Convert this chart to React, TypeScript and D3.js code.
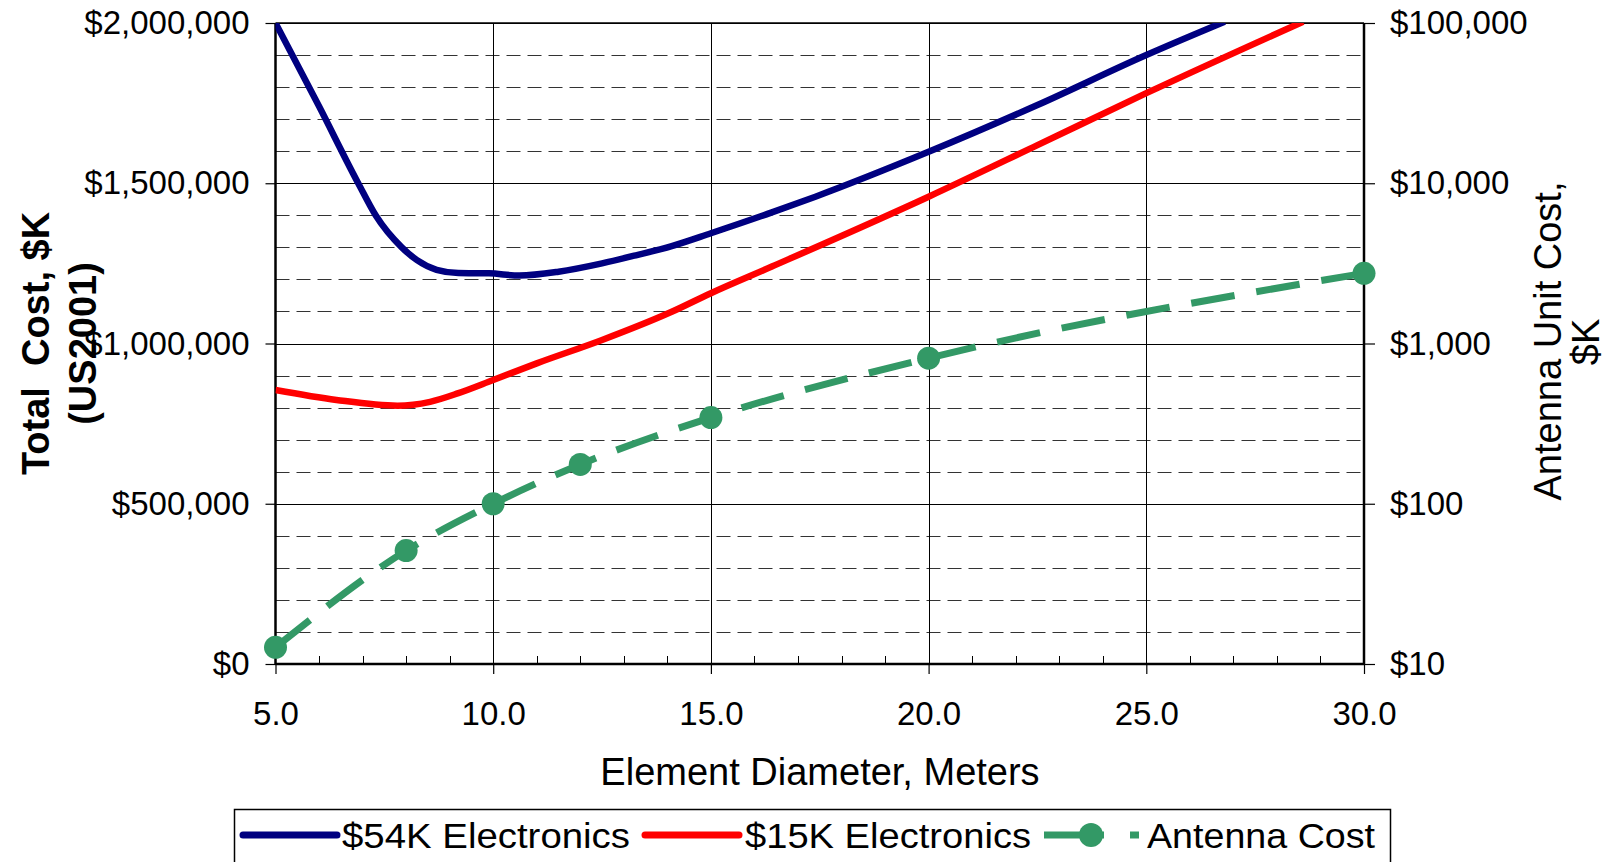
import React, { useEffect, useRef } from 'react';
import * as d3 from 'd3';

// element diameter (m) vs total cost
const blueDiam = [5, 6, 6.9, 7.3, 7.9, 8.25, 8.7, 9.2, 9.9, 10.6, 11.5, 12.5, 13.3, 14.1, 15, 16.4, 17.4, 20, 22.5, 25, 26.8];
const blueCost = [2000000, 1740000, 1500000, 1400000, 1300000, 1260000, 1230000, 1220000, 1219000, 1212000, 1224000, 1250000, 1276000, 1304000, 1344000, 1409000, 1458000, 1598000, 1744000, 1900000, 2004000];

const redDiam = [5, 6.4, 7.8, 8.55, 9.2, 10, 11, 12.5, 14.1, 15, 16.4, 20, 22.5, 25, 28.6];
const redCost = [855000, 824000, 806000, 818000, 845000, 886000, 938000, 1011000, 1099000, 1157000, 1240000, 1458000, 1619000, 1781000, 2004000];

// antenna unit cost ($K), right log axis
const antDiam = [5, 8, 10, 12, 15, 20, 30];
const antCost = [12.7, 51, 100, 176, 345, 810, 2740];

const xTicks = [5, 10, 15, 20, 25, 30];
const leftTicks = [0, 500000, 1000000, 1500000, 2000000];
const rightTicks = [10, 100, 1000, 10000, 100000];

const seriesNames = ['$54K Electronics', '$15K Electronics', 'Antenna Cost'];
const BLUE = '#000080', RED = '#ff0000', GREEN = '#339966';
const FONT = '"Liberation Sans", Arial, sans-serif';

const App = () => {
  const svgRef = useRef<SVGSVGElement>(null);

  useEffect(() => {
    const W = 1615, H = 862;
    const L = 275.5, R = 1364, T = 23, B = 664;
    const svg = d3.select(svgRef.current);
    svg.selectAll('*').remove();
    svg.attr('width', W).attr('height', H).style('font-family', FONT);

    const x = d3.scaleLinear().domain([5, 30]).range([L, R]);
    const y = d3.scaleLinear().domain([0, 2000000]).range([B, T]);
    const yR = d3.scaleLog().domain([10, 100000]).range([B, T]);

    svg.append('rect').attr('width', W).attr('height', H).attr('fill', '#fff');

    // minor dashed gridlines every 100K
    const minor = d3.range(100000, 2000000, 100000).filter(v => v % 500000 !== 0);
    svg.append('g').selectAll('line').data(minor).join('line')
      .attr('x1', L).attr('x2', R)
      .attr('y1', d => Math.round(y(d)) + 0.5).attr('y2', d => Math.round(y(d)) + 0.5)
      .attr('stroke', '#333').attr('stroke-width', 1).attr('stroke-dasharray', '14,7');

    // major gridlines
    svg.append('g').selectAll('line').data(leftTicks.slice(1)).join('line')
      .attr('x1', L).attr('x2', R)
      .attr('y1', d => Math.round(y(d)) + 0.5).attr('y2', d => Math.round(y(d)) + 0.5)
      .attr('stroke', '#000').attr('stroke-width', 1.2);
    svg.append('g').selectAll('line').data(xTicks.slice(1, -1)).join('line')
      .attr('x1', d => Math.round(x(d)) + 0.5).attr('x2', d => Math.round(x(d)) + 0.5)
      .attr('y1', T).attr('y2', B)
      .attr('stroke', '#000').attr('stroke-width', 1);

    // minor x ticks
    svg.append('g').selectAll('line').data(d3.range(6, 30).filter(v => v % 5 !== 0)).join('line')
      .attr('x1', d => Math.round(x(d)) + 0.5).attr('x2', d => Math.round(x(d)) + 0.5)
      .attr('y1', B).attr('y2', B - 8)
      .attr('stroke', '#000').attr('stroke-width', 1);

    // axes
    const leftAxis = svg.append('g').attr('transform', `translate(${L},0)`)
      .call(d3.axisLeft(y).tickValues(leftTicks).tickSize(10).tickPadding(16)
        .tickFormat(d => d3.format('$,.0f')(d as number)));
    const rightAxis = svg.append('g').attr('transform', `translate(${R},0)`)
      .call(d3.axisRight(yR).tickValues(rightTicks).tickSize(11).tickPadding(15)
        .tickFormat(d => d3.format('$,.0f')(d as number)));
    const bottomAxis = svg.append('g').attr('transform', `translate(0,${B})`)
      .call(d3.axisBottom(x).tickValues(xTicks).tickSize(10).tickPadding(28)
        .tickFormat(d => d3.format('.1f')(d as number)));
    [leftAxis, rightAxis, bottomAxis].forEach(g => {
      g.select('.domain').remove();
      g.attr('font-family', FONT).attr('font-size', 33);
      g.selectAll('text').attr('fill', '#000');
      g.selectAll('line').attr('stroke', '#000').attr('stroke-width', 1.2);
    });

    // plot frame
    svg.append('line').attr('x1', L).attr('x2', L).attr('y1', T).attr('y2', B + 1)
      .attr('stroke', '#000').attr('stroke-width', 2.5);
    svg.append('line').attr('x1', R).attr('x2', R).attr('y1', T).attr('y2', B + 1)
      .attr('stroke', '#000').attr('stroke-width', 2.5);
    svg.append('line').attr('x1', L).attr('x2', R).attr('y1', B).attr('y2', B)
      .attr('stroke', '#000').attr('stroke-width', 2.5);
    svg.append('line').attr('x1', L).attr('x2', R).attr('y1', T).attr('y2', T)
      .attr('stroke', '#000').attr('stroke-width', 1.5);

    svg.append('clipPath').attr('id', 'plotClip')
      .append('rect').attr('x', L).attr('y', T).attr('width', R - L).attr('height', B - T);

    const line = d3.line<[number, number]>().x(d => x(d[0])).y(d => y(d[1])).curve(d3.curveMonotoneX);
    const blue = blueDiam.map((d, i) => [d, blueCost[i]] as [number, number]);
    const red = redDiam.map((d, i) => [d, redCost[i]] as [number, number]);

    svg.append('path').attr('d', line(blue)).attr('clip-path', 'url(#plotClip)')
      .attr('fill', 'none').attr('stroke', BLUE).attr('stroke-width', 6.5).attr('stroke-linejoin', 'round');
    svg.append('path').attr('d', line(red)).attr('clip-path', 'url(#plotClip)')
      .attr('fill', 'none').attr('stroke', RED).attr('stroke-width', 6.5).attr('stroke-linejoin', 'round');

    const antLine = d3.line<number>().x((d, i) => x(antDiam[i])).y(d => yR(d)).curve(d3.curveMonotoneX);
    svg.append('path').attr('d', antLine(antCost))
      .attr('fill', 'none').attr('stroke', GREEN).attr('stroke-width', 7).attr('stroke-dasharray', '44,22');
    svg.append('g').selectAll('circle').data(antCost).join('circle')
      .attr('cx', (d, i) => x(antDiam[i])).attr('cy', d => yR(d)).attr('r', 11.5).attr('fill', GREEN);

    // axis titles
    svg.append('text').attr('text-anchor', 'middle').attr('font-weight', 'bold').attr('font-size', 38)
      .attr('transform', `translate(49,${(T + B) / 2}) rotate(-90)`).text('Total\u00a0\u00a0Cost, $K');
    svg.append('text').attr('text-anchor', 'middle').attr('font-weight', 'bold').attr('font-size', 38)
      .attr('transform', `translate(96,${(T + B) / 2}) rotate(-90)`).text('(US2001)');

    svg.append('text').attr('text-anchor', 'middle').attr('font-size', 38)
      .attr('transform', `translate(1561,341) rotate(-90)`).text('Antenna Unit Cost,');
    svg.append('text').attr('text-anchor', 'middle').attr('font-size', 38)
      .attr('transform', `translate(1599,342) rotate(-90)`).text('$K');

    svg.append('text').attr('text-anchor', 'middle').attr('font-size', 38)
      .attr('x', 820).attr('y', 785).text('Element Diameter, Meters');

    // legend
    const lg = svg.append('g');
    lg.append('rect').attr('x', 234.5).attr('y', 809.5).attr('width', 1156).attr('height', 80)
      .attr('fill', '#fff').attr('stroke', '#000').attr('stroke-width', 1.5);
    const items = [
      { name: seriesNames[0], color: BLUE, x0: 243, x1: 337, tx: 342, tl: 288 },
      { name: seriesNames[1], color: RED, x0: 645, x1: 739, tx: 745, tl: 286 },
      { name: seriesNames[2], color: GREEN, x0: 1044, x1: 1104, tx: 1147, tl: 228 },
    ];
    const ly = 835;
    items.forEach((it, i) => {
      lg.append('line').attr('x1', it.x0).attr('x2', it.x1).attr('y1', ly).attr('y2', ly)
        .attr('stroke', it.color).attr('stroke-width', 7).attr('stroke-linecap', i < 2 ? 'round' : 'butt');
      if (i === 2) {
        lg.append('circle').attr('cx', 1091).attr('cy', ly).attr('r', 12).attr('fill', GREEN);
        lg.append('line').attr('x1', 1130).attr('x2', 1139).attr('y1', ly).attr('y2', ly)
          .attr('stroke', GREEN).attr('stroke-width', 7);
      }
      lg.append('text').attr('x', it.tx).attr('y', 848).attr('font-size', 35)
        .attr('textLength', it.tl).attr('lengthAdjust', 'spacingAndGlyphs').text(it.name);
    });
  }, []);

  return (
    <div>
      <svg ref={svgRef} style={{ position: 'absolute', left: 0, top: 0, display: 'block' }}></svg>
    </div>
  );
};

export default App;
